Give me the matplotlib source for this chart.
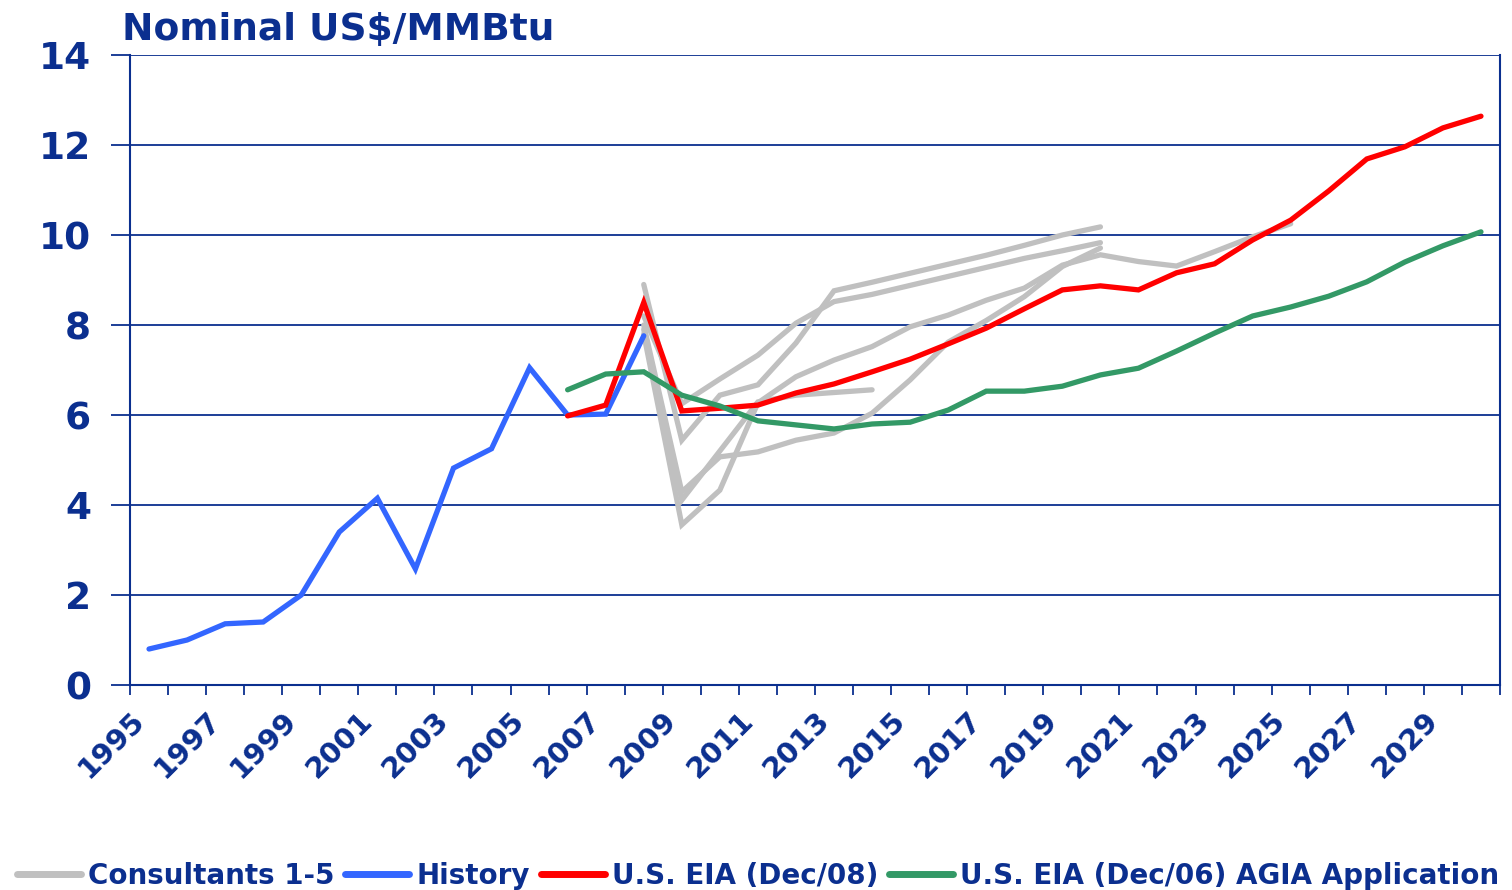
import numpy as np
import matplotlib
matplotlib.use("Agg")
import matplotlib.pyplot as plt
from matplotlib.transforms import ScaledTranslation

years = list(range(1995, 2031))

history_start = 1995
history = [0.80, 1.00, 1.36, 1.40, 2.00, 3.40, 4.15, 2.58, 4.82, 5.25, 7.05, 6.00, 6.02, 7.76]

eia08_start = 2006
eia08 = [5.98, 6.22, 8.50, 6.09, 6.15, 6.22, 6.49, 6.69, 6.96, 7.24, 7.58, 7.93, 8.36, 8.78,
         8.87, 8.78, 9.16, 9.36, 9.89, 10.33, 10.98, 11.69, 11.96, 12.38, 12.64]

eia06_start = 2006
eia06 = [6.56, 6.91, 6.96, 6.44, 6.20, 5.87, 5.78, 5.69, 5.80, 5.84, 6.11, 6.53, 6.53, 6.64,
         6.89, 7.04, 7.42, 7.82, 8.20, 8.40, 8.64, 8.96, 9.40, 9.76, 10.07]

cons_start = 2008
cons1 = [8.90, 5.44, 6.44, 6.67, 7.60, 8.76, 8.95, 9.15, 9.35, 9.55, 9.77, 10.00, 10.18]
cons2 = [8.20, 6.25, 6.80, 7.33, 8.04, 8.52, 8.68, 8.88, 9.08, 9.28, 9.48, 9.65, 9.83]
cons3 = [7.90, 4.11, 5.20, 6.29, 6.44, 6.50, 6.56]
cons4 = [8.00, 4.29, 5.07, 5.18, 5.44, 5.60, 6.04, 6.78, 7.62, 8.10, 8.63, 9.30, 9.71]
cons5 = [7.80, 3.56, 4.33, 6.27, 6.85, 7.22, 7.52, 7.96, 8.22, 8.55, 8.82, 9.33, 9.56,
         9.41, 9.31, 9.63, 9.96, 10.25]

yticks = [0, 2, 4, 6, 8, 10, 12, 14]
title = "Nominal US$/MMBtu"

DARK = "#0B2F8F"
GRAY = "#C0C0C0"
BLUE = "#3366FF"
RED = "#FF0000"
GREEN = "#339966"

plt.rcParams['font.family'] = ['DejaVu Sans']
plt.rcParams['font.weight'] = 'bold'

fig = plt.figure(figsize=(15.12, 8.90), dpi=100)
ax = fig.add_axes([130/1512, 1-685/890, 1370/1512, 630/890])

def xs(start, vals):
    i0 = years.index(start)
    return np.arange(i0, i0 + len(vals))

lw = 3.8
for k, c in enumerate([cons1, cons2, cons3, cons4, cons5]):
    ax.plot(xs(cons_start, c), c, color=GRAY, lw=lw, solid_capstyle='round',
            solid_joinstyle='miter', label="Consultants 1-5" if k == 0 else None, zorder=2)
ax.plot(xs(history_start, history), history, color=BLUE, lw=lw, solid_capstyle='round',
        solid_joinstyle='miter', label="History", zorder=3)
ax.plot(xs(eia08_start, eia08), eia08, color=RED, lw=lw, solid_capstyle='round',
        solid_joinstyle='miter', label="U.S. EIA (Dec/08)", zorder=4)
ax.plot(xs(eia06_start, eia06), eia06, color=GREEN, lw=lw, solid_capstyle='round',
        solid_joinstyle='miter', label="U.S. EIA (Dec/06) AGIA Application", zorder=4)

ax.set_xlim(-0.5, len(years) - 0.5)
ax.set_ylim(0, 14)
ax.set_yticks(yticks)
ax.set_yticklabels([str(v) for v in yticks])
ax.grid(axis='y', color=DARK, lw=1.3, zorder=1)
ax.set_axisbelow(True)
for s in ax.spines.values():
    s.set_color(DARK)
    s.set_linewidth(1.5)
ax.spines['top'].set_visible(False)

ax.set_xticks(np.arange(-0.5, len(years), 1.0))
ax.set_xticklabels([])
ax.tick_params(axis='x', which='major', direction='out', length=7, width=1.3, color=DARK)
lab_idx = [i for i, y in enumerate(years) if (y - 1995) % 2 == 0]
ax.set_xticks(lab_idx, minor=True)
ax.set_xticklabels([str(years[i]) for i in lab_idx], minor=True, rotation=45,
                   ha='right', va='top', rotation_mode='anchor',
                   fontsize=21, fontweight='bold', color=DARK)
ax.tick_params(axis='x', which='minor', length=0, pad=0)
off = ScaledTranslation(-0.19, -0.21, fig.dpi_scale_trans)
for t in ax.xaxis.get_minorticklabels():
    t.set_transform(t.get_transform() + off)
ax.tick_params(axis='y', direction='out', length=14, width=1.3, color=DARK,
               labelsize=27, labelcolor=DARK, pad=14)
for t in ax.get_yticklabels():
    t.set_fontweight('bold')

fig.text(122/1512, 1-40/890, title, fontsize=27, fontweight='bold', color=DARK,
         ha='left', va='baseline')

leg = fig.legend(loc='center', bbox_to_anchor=(758/1512, 1-876/890), ncol=4,
                 frameon=False, fontsize=20, handlelength=2.3, handletextpad=0.25,
                 columnspacing=0.4, borderpad=0, borderaxespad=0)
for t in leg.get_texts():
    t.set_color(DARK)
    t.set_fontweight('bold')
for h in leg.get_lines():
    h.set_linewidth(5)
    h.set_solid_capstyle('round')

fig.savefig("out.png", dpi=100)
